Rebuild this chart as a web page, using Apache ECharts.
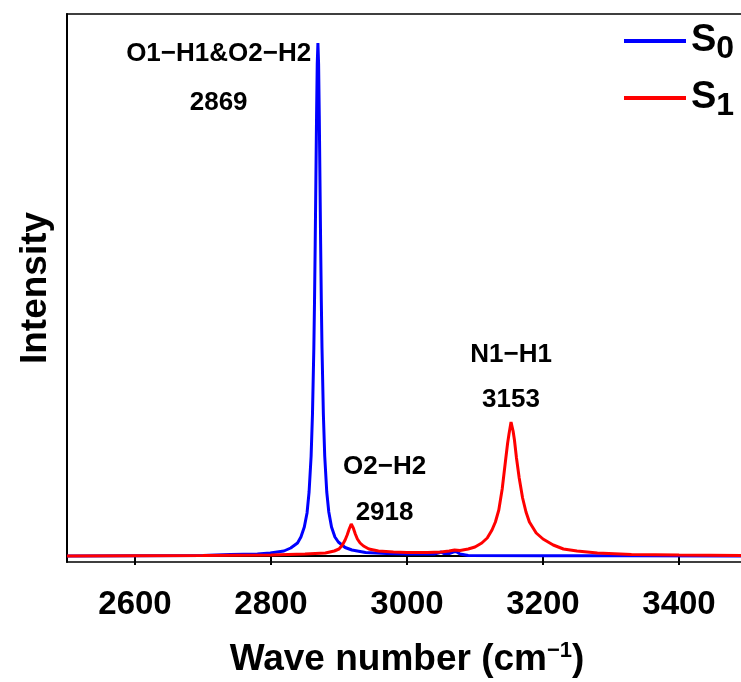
<!DOCTYPE html>
<html>
<head>
<meta charset="utf-8">
<script src="https://cdn.jsdelivr.net/npm/echarts@6/dist/echarts.min.js"></script>
<style>
  html, body { margin: 0; padding: 0; background: #fff; }
  #main { width: 741px; height: 682px; }
</style>
</head>
<body>
<div id="main"></div>
<script>
// x tick labels
var xTicks = [2600, 2800, 3000, 3200, 3400]

// S0 spectrum, [wave number, intensity]
var s0 = [
  [2500, 0], [2600, 0.3], [2700, 0.6], [2740, 1.5], [2780, 2], [2799, 3], [2819, 5], [2829, 8],
  [2839, 13], [2844, 19], [2849, 29], [2853, 43], [2856, 64], [2859, 100], [2861, 142],
  [2863, 208], [2864, 255], [2865, 312], [2866, 376], [2867, 440], [2868, 492], [2869, 513],
  [2870, 492], [2871, 440], [2872, 376], [2873, 312], [2874, 255], [2875, 208], [2877, 142],
  [2879, 100], [2882, 64], [2885, 44], [2889, 29], [2894, 19], [2899, 14], [2909, 8.5],
  [2919, 6], [2939, 3.5], [2970, 2.5], [3000, 2], [3040, 2], [3046, 3], [3050, 4],
  [3054, 2.5], [3062, 2.5], [3068, 4], [3072, 4.5], [3078, 2], [3090, 0.5], [3200, 0.3],
  [3320, 0.2], [3500, 0]
]

// S1 spectrum
var s1 = [
  [2500, 0], [2600, 0.2], [2700, 0.5], [2800, 1], [2850, 2], [2880, 3], [2893, 5], [2900, 7],
  [2905, 11], [2909, 16], [2912, 21], [2915, 27], [2918, 32], [2921, 28], [2924, 22],
  [2927, 17], [2931, 13], [2936, 10], [2944, 7], [2958, 5], [2980, 4], [3000, 3.5],
  [3030, 3.5], [3050, 4], [3062, 5], [3070, 6], [3078, 5.5], [3090, 7], [3100, 9],
  [3110, 13], [3118, 18], [3125, 26], [3130, 34], [3135, 46], [3140, 67], [3145, 96],
  [3148, 113], [3150, 122], [3153, 134], [3156, 125], [3158, 116], [3161, 98], [3165, 78],
  [3170, 58], [3175, 44], [3180, 34], [3190, 23], [3200, 17], [3215, 11], [3230, 7],
  [3250, 5], [3280, 3], [3330, 1.5], [3400, 1], [3500, 0.5]
]

// peak annotations: [wave number, intensity, text]
var s0Notes = [[2723, 502, 'O1−H1&O2−H2'], [2723, 453, '2869']]
var s1Notes = [
  [2967, 89, 'O2−H2'], [2967, 43, '2918'],
  [3153, 201, 'N1−H1'], [3153, 156, '3153']
]

var font = 'Liberation Sans'

function notePoints(notes) {
  return notes.map(function (n) {
    return {
      coord: [n[0], n[1]],
      symbolSize: 0,
      label: {
        show: true, position: 'inside', formatter: n[2],
        fontFamily: font, fontWeight: 'bold', fontSize: 26, color: '#000'
      }
    }
  })
}

var myChart = echarts.init(document.getElementById('main'))

myChart.setOption({
  animation: false,
  grid: {
    left: 67, right: -6, top: 14, bottom: 120,
    containLabel: false, outerBoundsMode: 'none',
    show: true, borderColor: '#000', borderWidth: 1.5
  },
  legend: {
    data: ['S0', 'S1'],
    orient: 'vertical',
    left: 619, top: 17,
    icon: 'rect',
    itemWidth: 62, itemHeight: 4, itemGap: 14,
    formatter: function (name) { return 'S{sub|' + name.slice(1) + '}' },
    textStyle: {
      fontFamily: font, fontWeight: 'bold', fontSize: 38, color: '#000',
      rich: {
        sub: { fontFamily: font, fontWeight: 'bold', fontSize: 32, color: '#000', padding: [16, 0, 0, 0] }
      }
    }
  },
  xAxis: {
    type: 'value', min: 2500, max: 3500,
    name: 'Wave number (cm{sup|−1})',
    nameLocation: 'middle', nameGap: 78,
    nameTextStyle: {
      fontFamily: font, fontWeight: 'bold', fontSize: 37, color: '#000',
      rich: { sup: { fontFamily: font, fontWeight: 'bold', fontSize: 22, color: '#000', padding: [0, 0, 18, 0] } }
    },
    axisLine: { show: true, lineStyle: { color: '#000', width: 2 } },
    axisTick: { show: true, length: 9, lineStyle: { color: '#000', width: 2 }, customValues: xTicks },
    axisLabel: {
      customValues: xTicks, margin: 26,
      formatter: function (v) { return String(v) },
      fontFamily: font, fontWeight: 'bold', fontSize: 33, color: '#000'
    },
    splitLine: { show: false }
  },
  yAxis: {
    type: 'value', min: -6, max: 542,
    name: 'Intensity', nameLocation: 'middle', nameGap: 13, nameRotate: 90,
    nameTextStyle: { fontFamily: font, fontWeight: 'bold', fontSize: 37, color: '#000' },
    axisLine: { show: true, lineStyle: { color: '#000', width: 2 } },
    axisTick: { show: false },
    axisLabel: { show: false },
    splitLine: { show: false }
  },
  series: [
    {
      name: 'S0', type: 'line', data: s0, symbol: 'none',
      lineStyle: { color: '#0000ff', width: 3 }, itemStyle: { color: '#0000ff' },
      markPoint: { symbol: 'circle', data: notePoints(s0Notes) }
    },
    {
      name: 'S1', type: 'line', data: s1, symbol: 'none',
      lineStyle: { color: '#ff0000', width: 3 }, itemStyle: { color: '#ff0000' },
      markPoint: { symbol: 'circle', data: notePoints(s1Notes) }
    }
  ]
})
</script>
</body>
</html>
